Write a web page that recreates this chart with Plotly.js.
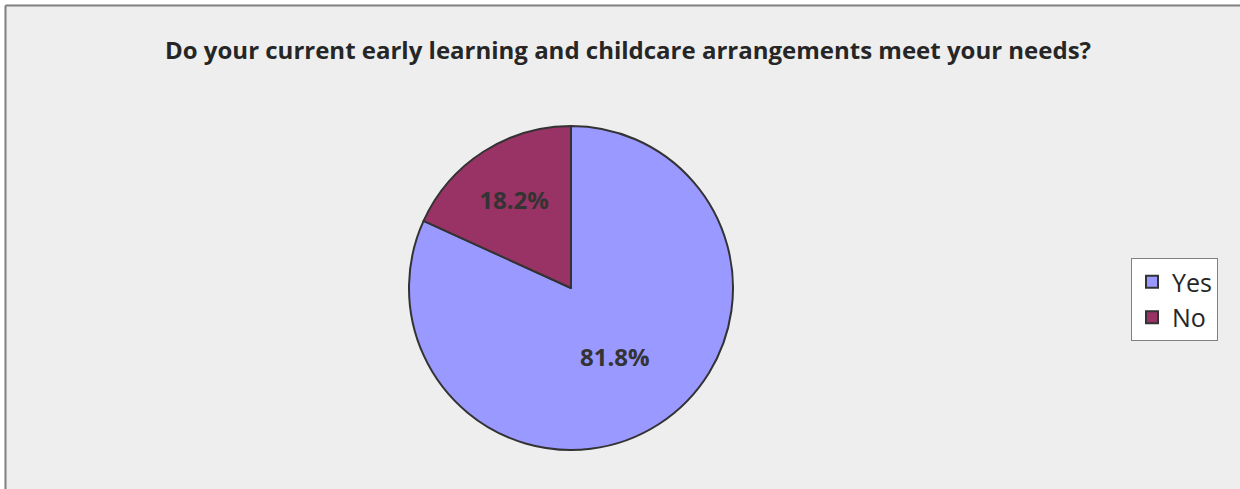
<!DOCTYPE html>
<html>
<head>
<meta charset="utf-8">
<script src="https://cdn.plot.ly/plotly-3.0.1.min.js"></script>
<style>
html,body{margin:0;padding:0;background:#ffffff;}
#chart{width:1240px;height:489px;}
</style>
</head>
<body>
<div id="chart"></div>
<script>
const categories = ["Yes", "No"];
const values = [81.8, 18.2];
const colors = ["#9999FF", "#993366"];
const chartTitle = "Do your current early learning and childcare arrangements meet your needs?";

const W = 1240, H = 489;
const cx = 571, cy = 288, r = 162;

const trace = {
  type: "pie",
  labels: categories,
  values: values,
  sort: false,
  direction: "counterclockwise",
  rotation: 0,
  marker: { colors: colors, line: { color: "#333333", width: 2 } },
  textinfo: "percent",
  texttemplate: "%{percent:.1%}",
  textposition: "inside",
  insidetextorientation: "horizontal",
  textfont: { family: "Open Sans, sans-serif", size: 24, color: "#333333", weight: "bold" },
  hoverinfo: "label+percent",
  domain: { x: [(cx - r) / W, (cx + r) / W], y: [1 - (cy + r) / H, 1 - (cy - r) / H] }
};

const layout = {
  width: W, height: H,
  margin: { l: 0, r: 0, t: 0, b: 0 },
  paper_bgcolor: "#EEEEEE",
  plot_bgcolor: "#EEEEEE",
  title: {
    text: "<b>" + chartTitle + "</b>",
    x: 628 / W, xanchor: "center",
    y: 1 - 51 / H, yanchor: "middle",
    font: { family: "Open Sans, sans-serif", size: 24, color: "#262626" }
  },
  showlegend: true,
  legend: {
    x: 1131 / W, xanchor: "left",
    y: 1 - 258 / H, yanchor: "top",
    bgcolor: "#FFFFFF",
    bordercolor: "#808080",
    borderwidth: 1,
    font: { family: "Open Sans, sans-serif", size: 25, color: "#262626" },
    itemwidth: 30
  },
  shapes: [
    { type: "line", xref: "paper", yref: "paper", x0: 5.5 / W, x1: 5.5 / W, y0: 0, y1: 1 - 5.5 / H,
      line: { color: "#808080", width: 2 } },
    { type: "line", xref: "paper", yref: "paper", x0: 5.5 / W, x1: 1, y0: 1 - 5.5 / H, y1: 1 - 5.5 / H,
      line: { color: "#808080", width: 2 } },
    { type: "rect", xref: "paper", yref: "paper", x0: 0, x1: 4.5 / W, y0: 0, y1: 1,
      fillcolor: "#FFFFFF", line: { width: 0 }, layer: "below" },
    { type: "rect", xref: "paper", yref: "paper", x0: 0, x1: 1, y0: 1 - 4.5 / H, y1: 1,
      fillcolor: "#FFFFFF", line: { width: 0 }, layer: "below" }
  ]
};

Plotly.newPlot("chart", [trace], layout, { displayModeBar: false, staticPlot: true });
</script>
</body>
</html>
